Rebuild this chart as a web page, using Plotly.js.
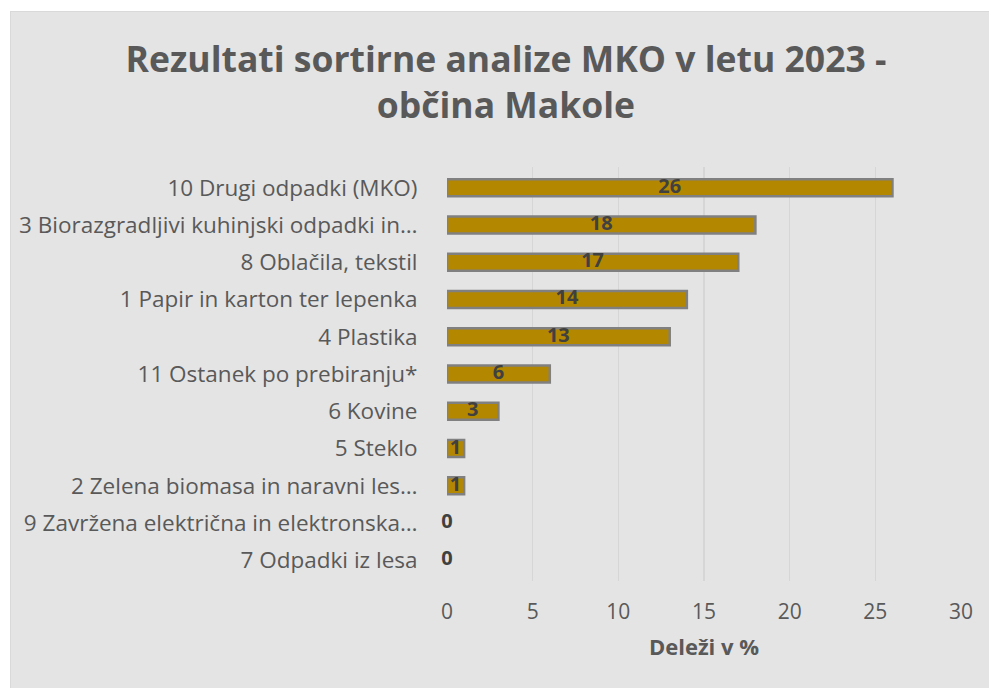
<!DOCTYPE html>
<html>
<head>
<meta charset="utf-8">
<script src="https://cdn.plot.ly/plotly-3.0.1.min.js"></script>
<style>
  html, body { margin: 0; padding: 0; background: #ffffff; width: 989px; height: 688px; overflow: hidden; }
  #chart { position: absolute; left: 10px; top: 11px; width: 979px; height: 677px; box-sizing: border-box; border-left: 1px solid #d9d9d9; border-top: 1px solid #d9d9d9; }
</style>
</head>
<body>
<div id="chart"></div>
<script>
// Categories listed top to bottom
const categories = [
  "10 Drugi odpadki (MKO)",
  "3 Biorazgradljivi kuhinjski odpadki in…",
  "8 Oblačila, tekstil",
  "1 Papir in karton ter lepenka",
  "4 Plastika",
  "11 Ostanek po prebiranju*",
  "6 Kovine",
  "5 Steklo",
  "2 Zelena biomasa in naravni les…",
  "9 Zavržena električna in elektronska…",
  "7 Odpadki iz lesa"
];
const shares = [26, 18, 17, 14, 13, 6, 3, 1, 1, 0, 0];
const xTicks = [0, 5, 10, 15, 20, 25, 30];
const chartTitle = "Rezultati sortirne analize MKO v letu 2023 -<br>občina Makole";
const xTitle = "Deleži v %";

const FONT = "'Open Sans', 'Noto Sans', sans-serif";

const bars = {
  type: "bar",
  orientation: "h",
  y: categories,
  x: shares,
  width: 0.46,
  marker: {
    color: "#b48700",
    line: { color: "#808080", width: shares.map(v => (v > 0 ? 2.5 : 0)) }
  },
  hoverinfo: "skip",
  showlegend: false
};

const labels = {
  type: "scatter",
  mode: "text",
  y: categories,
  x: shares.map(v => v / 2),
  text: shares.map(String),
  textposition: "middle center",
  textfont: { family: FONT, size: 20, color: "#404040", weight: "bold" },
  cliponaxis: false,
  hoverinfo: "skip",
  showlegend: false
};

const layout = {
  width: 979,
  height: 677,
  paper_bgcolor: "#e4e4e4",
  plot_bgcolor: "#e4e4e4",
  margin: { l: 436, r: 29, t: 155, b: 108 },
  font: { family: FONT, color: "#595959" },
  title: {
    text: chartTitle,
    font: { family: FONT, size: 35.5, color: "#595959", weight: "bold" },
    xref: "container", x: 0.5056, xanchor: "center",
    yref: "container", y: 1 - 60 / 677, yanchor: "top"
  },
  xaxis: {
    range: [0, 30],
    tickvals: xTicks,
    ticktext: xTicks.map(String),
    showgrid: true,
    gridcolor: "#d6d6d6",
    gridwidth: 1.5,
    zeroline: false,
    showline: false,
    ticks: "outside",
    ticklen: 12,
    tickcolor: "rgba(0,0,0,0)",
    tickfont: { family: FONT, size: 21, color: "#595959" },
    title: { text: xTitle, font: { family: FONT, size: 22, color: "#595959", weight: "bold" }, standoff: 15 },
    fixedrange: true
  },
  yaxis: {
    type: "category",
    autorange: "reversed",
    showgrid: false,
    zeroline: false,
    showline: false,
    ticks: "outside",
    ticklen: 24,
    tickcolor: "rgba(0,0,0,0)",
    tickfont: { family: FONT, size: 22.5, color: "#595959" },
    fixedrange: true
  },
  bargap: 0.54
};

Plotly.newPlot("chart", [bars, labels], layout, { displayModeBar: false, staticPlot: true });
</script>
</body>
</html>
